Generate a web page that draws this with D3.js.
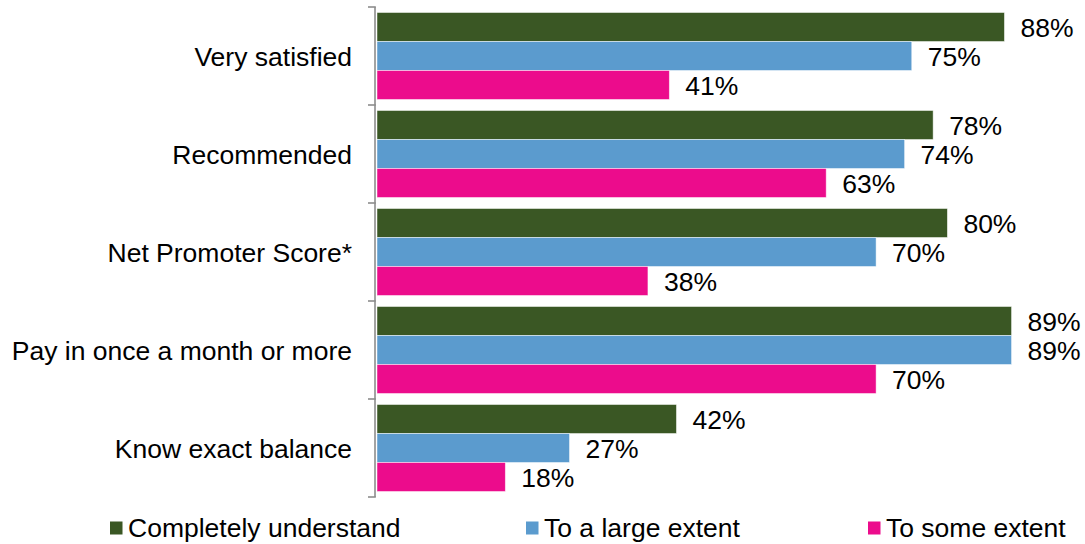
<!DOCTYPE html>
<html>
<head>
<meta charset="utf-8">
<script src="https://cdn.jsdelivr.net/npm/d3@7"></script>
<style>
  html, body { margin: 0; padding: 0; background: #fff; }
  svg { display: block; }
  text { font-family: Arial, "Liberation Sans", sans-serif; fill: #000; }
</style>
</head>
<body>
<svg id="chart" width="1085" height="544"></svg>
<script>
const categories = ["Very satisfied", "Recommended", "Net Promoter Score*", "Pay in once a month or more", "Know exact balance"];
const seriesNames = ["Completely understand", "To a large extent", "To some extent"];
const completelyUnderstand = [88, 78, 80, 89, 42];
const toALargeExtent = [75, 74, 70, 89, 27];
const toSomeExtent = [41, 63, 38, 70, 18];
const seriesColors = ["#3A5724", "#5B9BCE", "#EC0C8C"];

const seriesValues = [completelyUnderstand, toALargeExtent, toSomeExtent];

const svg = d3.select("#chart");
const fontSize = 26.5;

const x = d3.scaleLinear().domain([0, 100]).range([377, 1090]);
const y = d3.scaleBand().domain(categories).range([7, 497]).paddingInner(0).paddingOuter(0);
const ySub = d3.scaleBand().domain(seriesNames).range([0, y.bandwidth()]).paddingInner(0).paddingOuter(0.19);

// bars
const groups = svg.append("g").selectAll("g")
  .data(categories)
  .join("g")
  .attr("transform", d => `translate(0,${y(d)})`);

groups.each(function(cat, ci) {
  const g = d3.select(this);
  seriesNames.forEach((s, si) => {
    const v = seriesValues[si][ci];
    g.append("rect")
      .attr("x", x(0))
      .attr("y", ySub(s))
      .attr("width", x(v) - x(0))
      .attr("height", ySub.bandwidth())
      .attr("fill", seriesColors[si])
      .attr("stroke", "rgba(255,255,255,0.6)")
      .attr("stroke-width", 0.8);
    g.append("text")
      .attr("x", x(v) + 16)
      .attr("y", ySub(s) + ySub.bandwidth() / 2)
      .attr("dy", "0.36em")
      .attr("font-size", fontSize)
      .text(v + "%");
  });
});

// axis
const axisX = 375;
const tickPositions = categories.map(c => y(c)).concat([y.range()[1]]);
const axisG = svg.append("g");
axisG.append("line")
  .attr("x1", axisX).attr("x2", axisX)
  .attr("y1", y.range()[0]).attr("y2", y.range()[1])
  .attr("stroke", "#8c8c8c").attr("stroke-width", 1.6);
axisG.selectAll("line.tick")
  .data(tickPositions)
  .join("line")
  .attr("class", "tick")
  .attr("x1", axisX - 7).attr("x2", axisX + 0.8)
  .attr("y1", d => d).attr("y2", d => d)
  .attr("stroke", "#8c8c8c").attr("stroke-width", 1.6);

// category labels
svg.append("g").selectAll("text")
  .data(categories)
  .join("text")
  .attr("x", 352)
  .attr("y", d => y(d) + y.bandwidth() / 2)
  .attr("dy", "0.36em")
  .attr("text-anchor", "end")
  .attr("font-size", fontSize)
  .text(d => d);

// legend
const legendX = [110, 526, 868];
const legendY = 527.5;
const lg = svg.append("g").selectAll("g")
  .data(seriesNames)
  .join("g")
  .attr("transform", (d, i) => `translate(${legendX[i]},${legendY})`);
lg.append("rect")
  .attr("x", 0).attr("y", -6)
  .attr("width", 12.5).attr("height", 13)
  .attr("fill", (d, i) => seriesColors[i]);
lg.append("text")
  .attr("x", 18)
  .attr("y", 0)
  .attr("dy", "0.36em")
  .attr("font-size", fontSize)
  .text(d => d);
</script>
</body>
</html>
